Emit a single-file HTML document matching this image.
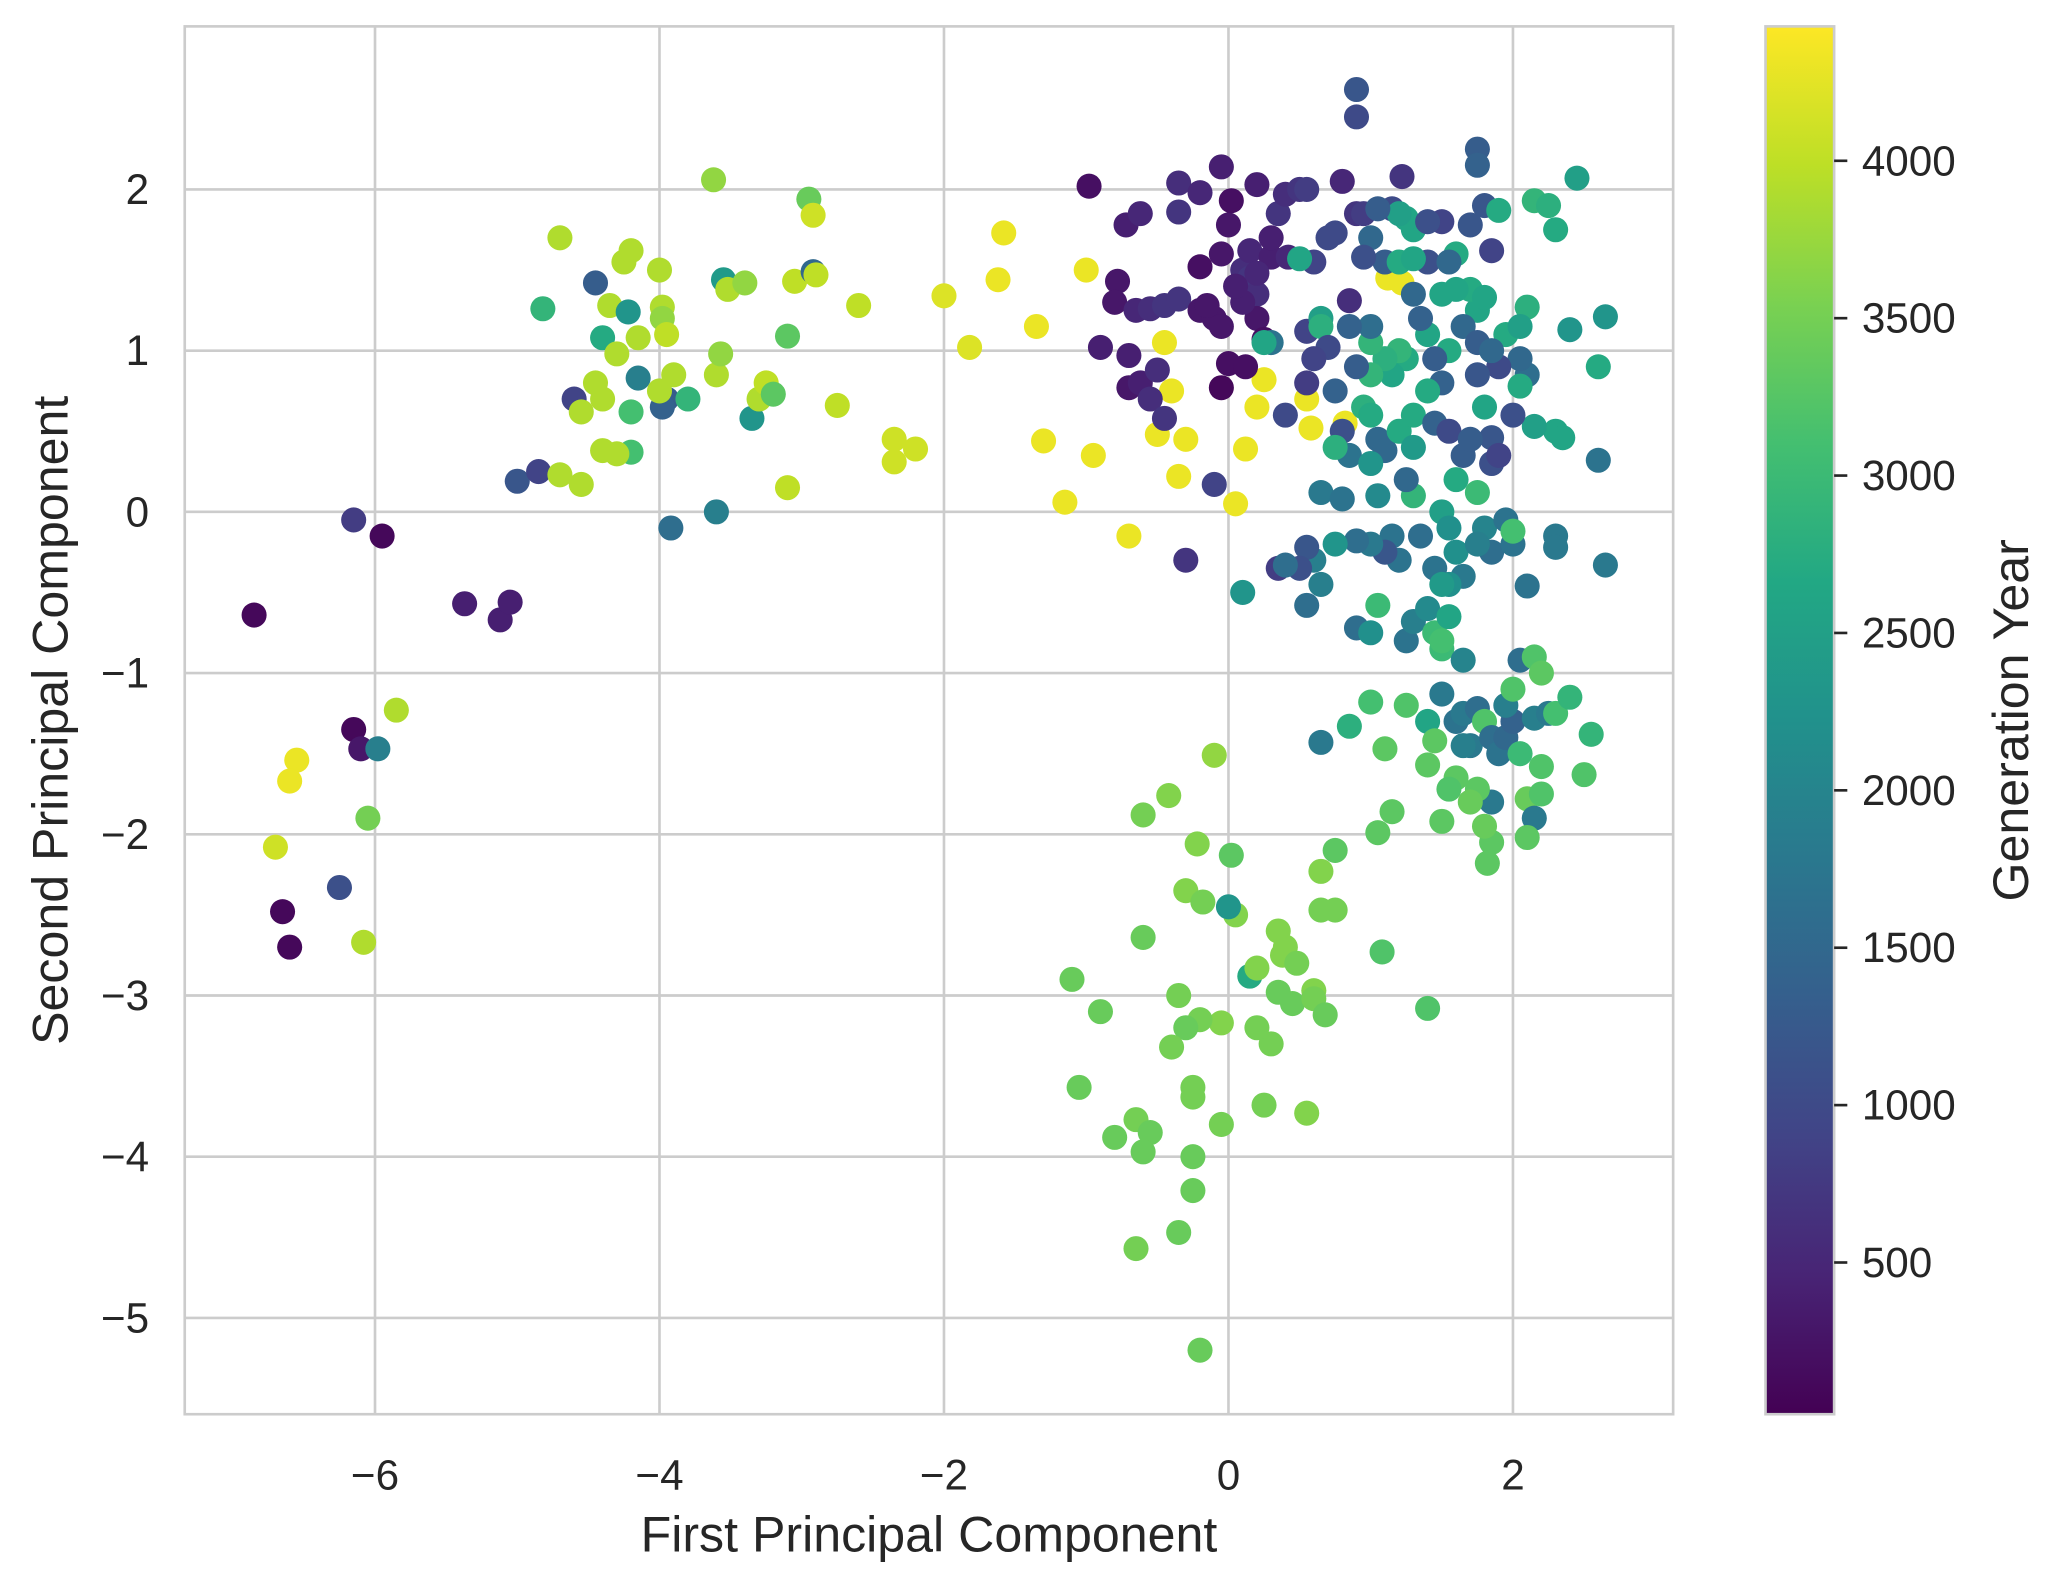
<!DOCTYPE html>
<html><head><meta charset="utf-8"><style>
html,body{margin:0;padding:0;background:#fff;}
svg{display:block;font-family:"Liberation Sans","DejaVu Sans",sans-serif;}
</style></head><body>
<svg id="chart" width="2069" height="1591" viewBox="0 0 1568 1206" preserveAspectRatio="none" xmlns="http://www.w3.org/2000/svg">
<defs><linearGradient id="vir" x1="0" y1="1" x2="0" y2="0"></linearGradient></defs>
<g id="grid"></g>
<g id="points"></g>
<rect x="140" y="20" width="1128" height="1052" fill="none" stroke="#cccccc" stroke-width="2"/>
<g id="xticks"></g>
<g id="yticks"></g>
<text x="704" y="1176" font-size="38" fill="#262626" text-anchor="middle">First Principal Component</text>
<text transform="translate(51,546) rotate(-90)" font-size="38" fill="#262626" text-anchor="middle">Second Principal Component</text>
<rect x="1338" y="20" width="52" height="1052" fill="url(#vir)" stroke="#cccccc" stroke-width="2"/>
<g id="cticks"></g>
<text transform="translate(1537,546) rotate(-90)" font-size="38" fill="#262626" text-anchor="middle">Generation Year</text>
</svg>
<script>
const xTicks=[-6,-4,-2,0,2];
const yTicks=[2,1,0,-1,-2,-3,-4,-5];
const cTicks=[500,1000,1500,2000,2500,3000,3500,4000];
const cMin=18, cMax=4427;
const ptX=[],ptY=[],ptYear=[];
const pts=[
[-6.85,-0.64,100],[-6.15,-0.05,800],[-5.95,-0.15,100],[-5.37,-0.57,400],[-5.12,-0.67,400],[-5.05,-0.56,400],
[-6.15,-1.35,100],[-6.1,-1.47,300],[-5.85,-1.23,3900],[-5.98,-1.47,1900],[-6.55,-1.54,4300],[-6.6,-1.67,4300],[-6.7,-2.08,4100],[-6.05,-1.9,3500],[-6.25,-2.33,1100],[-6.65,-2.48,100],[-6.6,-2.7,100],[-6.08,-2.67,3900],
[-5.0,0.19,1200],[-4.85,0.25,900],[-4.7,0.23,3900],[-4.55,0.17,3900],[-4.6,0.7,900],[-4.55,0.62,3900],[-4.45,1.42,1300],[-4.4,1.08,2700],[-4.35,1.28,3900],[-4.3,0.98,3900],[-4.25,1.55,3900],[-4.2,1.62,3900],[-4.22,1.24,2300],[-4.15,1.08,3900],[-4.15,0.83,1900],[-4.2,0.62,3100],[-4.2,0.37,3100],[-4.3,0.36,3900],[-4.4,0.38,3900],[-4.45,0.8,3900],[-4.4,0.7,3900],[-4.7,1.7,3900],[-4.82,1.26,2900],[-4.0,1.5,3900],[-3.98,1.27,3900],[-3.98,1.2,3700],[-3.95,1.1,4000],[-3.9,0.85,3900],[-3.95,0.7,1300],[-3.98,0.65,1400],[-4.0,0.75,3900],[-3.92,-0.1,1600],[-3.8,0.7,2900],[-3.62,2.06,3700],[-3.6,0.85,3900],[-3.57,0.98,3700],[-3.55,1.44,2400],[-3.52,1.38,3900],[-3.4,1.42,3700],[-3.6,0.0,1900],[-3.35,0.58,2300],[-3.3,0.7,3900],[-3.25,0.8,4000],[-3.2,0.73,3300],[-3.1,1.09,3300],[-3.1,0.15,4000],[-3.05,1.43,4000],[-2.95,1.94,3400],[-2.92,1.49,1500],[-2.9,1.47,4000],[-2.92,1.84,4100],[-2.75,0.66,4000],[-2.6,1.28,4000],[-2.35,0.45,4100],[-2.35,0.31,4100],[-2.2,0.39,4100],[-2.0,1.34,4200],[-1.82,1.02,4200],[-1.62,1.44,4300],[-1.58,1.73,4300],[-1.35,1.15,4300],[-1.3,0.44,4300],[-1.15,0.06,4300],[-1.0,1.5,4300],[-0.95,0.35,4300],[-0.7,-0.15,4300],[-0.5,0.48,4300],[-0.45,1.05,4300],[-0.4,0.75,4300],[-0.35,0.22,4300],[-0.3,0.45,4300],[0.05,0.05,4300],[0.12,0.39,4300],[0.2,0.65,4300],[0.25,0.82,4300],[0.55,0.7,4300],[0.58,0.52,4300],[0.82,0.55,4300],[1.12,1.45,4300],[1.22,1.42,4300],
[-0.98,2.02,200],[-0.78,1.43,300],[-0.8,1.3,300],[-0.9,1.02,400],[-0.72,1.78,400],[-0.62,1.85,500],[-0.65,1.25,500],[-0.55,1.26,600],[-0.45,1.28,700],[-0.35,1.32,700],[-0.7,0.97,400],[-0.7,0.77,300],[-0.62,0.8,400],[-0.55,0.7,600],[-0.5,0.88,600],[-0.45,0.58,700],[-0.35,2.04,600],[-0.35,1.86,700],[-0.2,1.98,500],[-0.2,1.52,200],[-0.2,1.25,300],[-0.1,1.2,300],[-0.05,1.6,300],[-0.05,1.15,300],[-0.05,2.14,400],[0.0,1.78,300],[0.02,1.93,200],[0.0,0.92,200],[-0.05,0.77,100],[0.1,1.5,600],[0.15,1.45,700],[0.15,1.62,500],[0.2,1.35,600],[0.2,1.2,300],[0.2,2.03,400],[0.25,1.07,200],[0.3,1.58,400],[0.3,1.7,400],[0.35,1.85,700],[0.4,1.97,600],[0.42,1.58,500],[0.5,2.0,700],[0.55,2.0,800],[0.55,1.12,900],[0.6,1.55,900],[0.7,1.7,1000],[0.75,1.73,1000],[0.8,2.05,500],[0.85,1.31,600],[0.9,1.85,700],[0.95,1.85,800],[0.9,2.62,1200],[0.9,2.45,1000],[-0.3,-0.3,700],[-0.1,0.17,900],[0.12,0.9,200],[0.2,1.48,500],[0.1,1.3,400],[0.05,1.4,400],[-0.15,1.28,300],
[1.15,1.88,1000],[1.22,2.08,700],[1.3,1.75,2600],[1.4,1.55,1100],[1.5,1.8,900],[1.6,1.6,2700],[1.7,1.78,1200],[1.75,2.25,1300],[1.75,2.15,1400],[1.8,1.9,1200],[1.85,1.62,900],[1.9,1.87,2700],[2.1,1.27,2800],[2.15,1.93,2900],[2.25,1.9,2800],[2.3,1.75,2700],[2.45,2.07,2500],[2.4,1.13,2300],[2.65,1.21,2300],[2.6,0.9,2700],[2.6,0.32,1700],[2.65,-0.33,1800],[2.3,0.5,2600],[2.35,0.46,2600],[2.15,0.53,2500],[2.3,-0.15,1800],[2.3,-0.22,1800],[2.1,-0.46,1700],[2.1,0.85,1600],[2.05,0.95,1500],[2.05,0.78,2700],[2.0,0.6,1100],[1.95,1.1,2700],[2.05,1.15,2500],[1.9,0.9,1000],[1.85,0.3,1100],[1.85,0.46,1200],[1.9,0.35,900],[1.8,0.65,2600],[1.75,0.85,1200],[1.75,1.25,2600],[1.7,1.38,2700],[1.8,1.33,2600],[1.65,1.15,1500],[1.6,1.38,2600],[1.5,1.35,2600],[1.55,1.0,2700],[1.5,0.8,1400],[1.45,0.95,1300],[1.4,1.1,2600],[1.35,1.2,1400],[1.3,1.35,1500],[1.25,0.95,2700],[1.2,1.0,2900],[1.15,0.85,2600],[1.1,0.95,2800],[1.0,1.05,2900],[1.0,0.85,2900],[0.95,0.65,2800],[1.0,0.6,2700],[1.05,0.45,1500],[1.1,0.38,1500],[1.2,0.5,2700],[1.3,0.6,2700],[1.4,0.75,2700],[1.45,0.55,1400],[1.55,0.5,1000],[1.65,0.35,1300],[1.7,0.45,1300],[1.6,0.2,2700],[1.75,0.12,3000],[1.5,0.0,2500],[1.55,-0.1,2200],[1.6,-0.25,2200],[1.8,-0.1,2000],[1.85,-0.25,1600],[1.95,-0.05,1700],[2.0,-0.2,1700],[2.0,-0.12,3100],[1.75,-0.2,1900],[1.65,-0.4,1800],[1.55,-0.45,2200],[1.45,-0.35,1700],[1.35,-0.15,1600],[1.3,0.1,2900],[1.25,0.2,1500],[1.2,-0.3,1700],[1.15,-0.15,1700],[1.1,-0.25,1200],[1.0,-0.2,1800],[0.9,-0.18,1600],[0.75,-0.2,2300],[0.6,-0.3,1900],[0.55,-0.22,1200],[0.5,-0.35,1100],[0.35,-0.35,800],[0.4,-0.33,1600],[0.65,-0.45,1900],[0.55,-0.58,1600],[0.1,-0.5,2300],[0.9,-0.72,1600],[1.0,-0.75,2200],[1.05,-0.58,3000],[1.25,-0.8,1700],[1.3,-0.68,1900],[1.4,-0.6,2100],[1.45,-0.75,3000],[1.5,-0.85,3000],[1.5,-0.8,3100],[1.55,-0.65,2600],[1.65,-0.92,2000],[1.5,-0.45,2400],[0.85,0.35,1700],[0.8,0.5,1100],[0.75,0.4,2800],[0.65,0.12,1800],[0.8,0.08,1700],[1.0,0.3,2300],[1.05,0.1,2100],[1.3,0.4,2400],[0.4,0.6,1000],[0.55,0.8,800],[0.75,0.75,1400],[0.9,0.9,1300],[1.0,1.15,1600],[0.85,1.15,1400],[0.65,1.2,2500],[0.65,1.15,2800],[0.5,1.57,2600],[0.7,1.02,1000],[0.6,0.95,900],[1.1,1.55,1300],[1.2,1.55,2700],[1.3,1.57,2600],[1.0,1.7,1500],[0.95,1.58,1100],[1.25,1.82,2600],[1.2,1.85,2500],[1.05,1.88,1300],[1.4,1.8,1100],[1.55,1.55,1500],[1.75,1.05,1300],[1.85,1.0,1500],[0.3,1.05,1700],[0.25,1.05,2600],
[0.65,-1.43,1800],[0.85,-1.33,2800],[1.0,-1.18,3100],[1.1,-1.47,3300],[1.25,-1.2,3200],[1.4,-1.3,2600],[1.45,-1.42,3300],[1.5,-1.13,1800],[1.6,-1.3,1700],[1.65,-1.25,1800],[1.7,-1.45,1800],[1.75,-1.22,1600],[1.8,-1.3,3200],[1.85,-1.4,1600],[1.9,-1.5,1700],[1.95,-1.4,1500],[2.0,-1.3,1400],[1.95,-1.2,1900],[2.0,-1.1,3200],[2.05,-0.92,1600],[2.15,-0.9,3200],[2.2,-1.0,3300],[2.15,-1.28,1900],[2.25,-1.25,1800],[2.3,-1.25,3100],[2.4,-1.15,2900],[2.55,-1.38,2900],[2.5,-1.63,3200],[2.2,-1.58,3200],[2.05,-1.5,3000],[2.1,-1.78,3400],[2.15,-1.9,1800],[2.1,-2.02,3300],[1.85,-1.8,1800],[1.85,-2.05,3300],[1.8,-1.95,3400],[1.82,-2.18,3300],[1.75,-1.72,3300],[1.7,-1.8,3400],[1.6,-1.65,3300],[1.55,-1.72,3200],[1.5,-1.92,3300],[1.4,-1.57,3300],[1.15,-1.86,3300],[1.05,-1.99,3300],[0.75,-2.1,3300],[1.08,-2.73,3200],[1.4,-3.08,3200],[1.65,-1.45,1900],[2.2,-1.75,3200],
[-0.1,-1.51,3700],[-0.6,-1.88,3500],[-0.42,-1.76,3600],[-0.22,-2.06,3600],[0.02,-2.13,3300],[-0.3,-2.35,3600],[-0.18,-2.42,3500],[0.05,-2.5,3600],[0.0,-2.45,2300],[0.15,-2.88,2700],[0.2,-2.83,3600],[0.35,-2.6,3600],[0.4,-2.7,3600],[0.38,-2.75,3600],[0.48,-2.8,3500],[0.35,-2.98,3400],[0.45,-3.05,3400],[0.6,-2.97,3600],[0.6,-3.02,3500],[0.68,-3.12,3400],[0.65,-2.47,3500],[0.75,-2.47,3500],[0.65,-2.23,3600],[0.3,-3.3,3500],[0.2,-3.2,3500],[-0.05,-3.17,3600],[-0.2,-3.15,3500],[-0.3,-3.2,3400],[-0.4,-3.32,3500],[-0.6,-2.64,3400],[-1.1,-2.9,3400],[-0.9,-3.1,3400],[-1.05,-3.57,3400],[-0.35,-3.0,3500],[-0.25,-3.57,3500],[-0.25,-3.63,3500],[0.25,-3.68,3500],[0.55,-3.73,3600],[-0.05,-3.8,3500],[-0.65,-3.77,3500],[-0.8,-3.88,3400],[-0.55,-3.85,3400],[-0.6,-3.97,3400],[-0.25,-4.0,3400],[-0.25,-4.21,3400],[-0.35,-4.47,3400],[-0.65,-4.57,3500],[-0.2,-5.2,3400]
];
pts.forEach(p=>{ptX.push(p[0]);ptY.push(p[1]);ptYear.push(p[2]);});

const NS="http://www.w3.org/2000/svg";
const xs=v=>931+v*107.8;
const ys=v=>388-v*122.2;
const cs=v=>1072-(v-cMin)/(cMax-cMin)*1052;
const vir=["#440154","#482475","#414487","#355f8d","#2a788e","#21918c","#22a884","#44bf70","#7ad151","#bddf26","#fde725"];
function hex(h){return [1,3,5].map(i=>parseInt(h.substr(i,2),16));}
function cmap(v){let t=Math.max(0,Math.min(1,(v-cMin)/(cMax-cMin)))*10;let i=Math.min(9,Math.floor(t)),f=t-i;
 const a=hex(vir[i]),b=hex(vir[i+1]);return "rgb("+a.map((c,k)=>Math.round(c+(b[k]-c)*f)).join(",")+")";}
function mk(tag,attrs,parent){const e=document.createElementNS(NS,tag);for(const k in attrs)e.setAttribute(k,attrs[k]);parent.appendChild(e);return e;}
const grad=document.getElementById('vir');
vir.forEach((c,i)=>mk('stop',{offset:(i*10)+"%","stop-color":c},grad));
const grid=document.getElementById('grid'),xt=document.getElementById('xticks'),yt=document.getElementById('yticks'),ct=document.getElementById('cticks'),pg=document.getElementById('points');
xTicks.forEach(v=>{
 const l=mk('line',{x1:xs(v),x2:xs(v),y1:20,y2:1072,stroke:"#cccccc","stroke-width":2},grid);
 
 
 const t=mk('text',{x:xs(v),y:1129,"font-size":32,fill:"#262626","text-anchor":"middle"},xt);
 t.textContent=v<0?"\u2212"+Math.abs(v):String(v);
 
 
});
yTicks.forEach(v=>{
 const l=mk('line',{x1:140,x2:1268,y1:ys(v),y2:ys(v),stroke:"#cccccc","stroke-width":2},grid);
 
 
 const t=mk('text',{x:113,y:ys(v)+11,"font-size":32,fill:"#262626","text-anchor":"end"},yt);
 t.textContent=v<0?"\u2212"+Math.abs(v):String(v);
 
 
});
cTicks.forEach(v=>{
 const l=mk('line',{x1:1390,x2:1400,y1:cs(v),y2:cs(v),stroke:"#262626","stroke-width":2},ct);
 
 
 const t=mk('text',{x:1411,y:cs(v)+11,"font-size":32,fill:"#262626"},ct);
 t.textContent=String(v);
 
 
});
ptX.forEach((x,i)=>{
 const c=mk('circle',{cx:xs(x),cy:ys(ptY[i]),r:9.5,fill:cmap(ptYear[i])},pg);
 
 
});
</script>
</body></html>
